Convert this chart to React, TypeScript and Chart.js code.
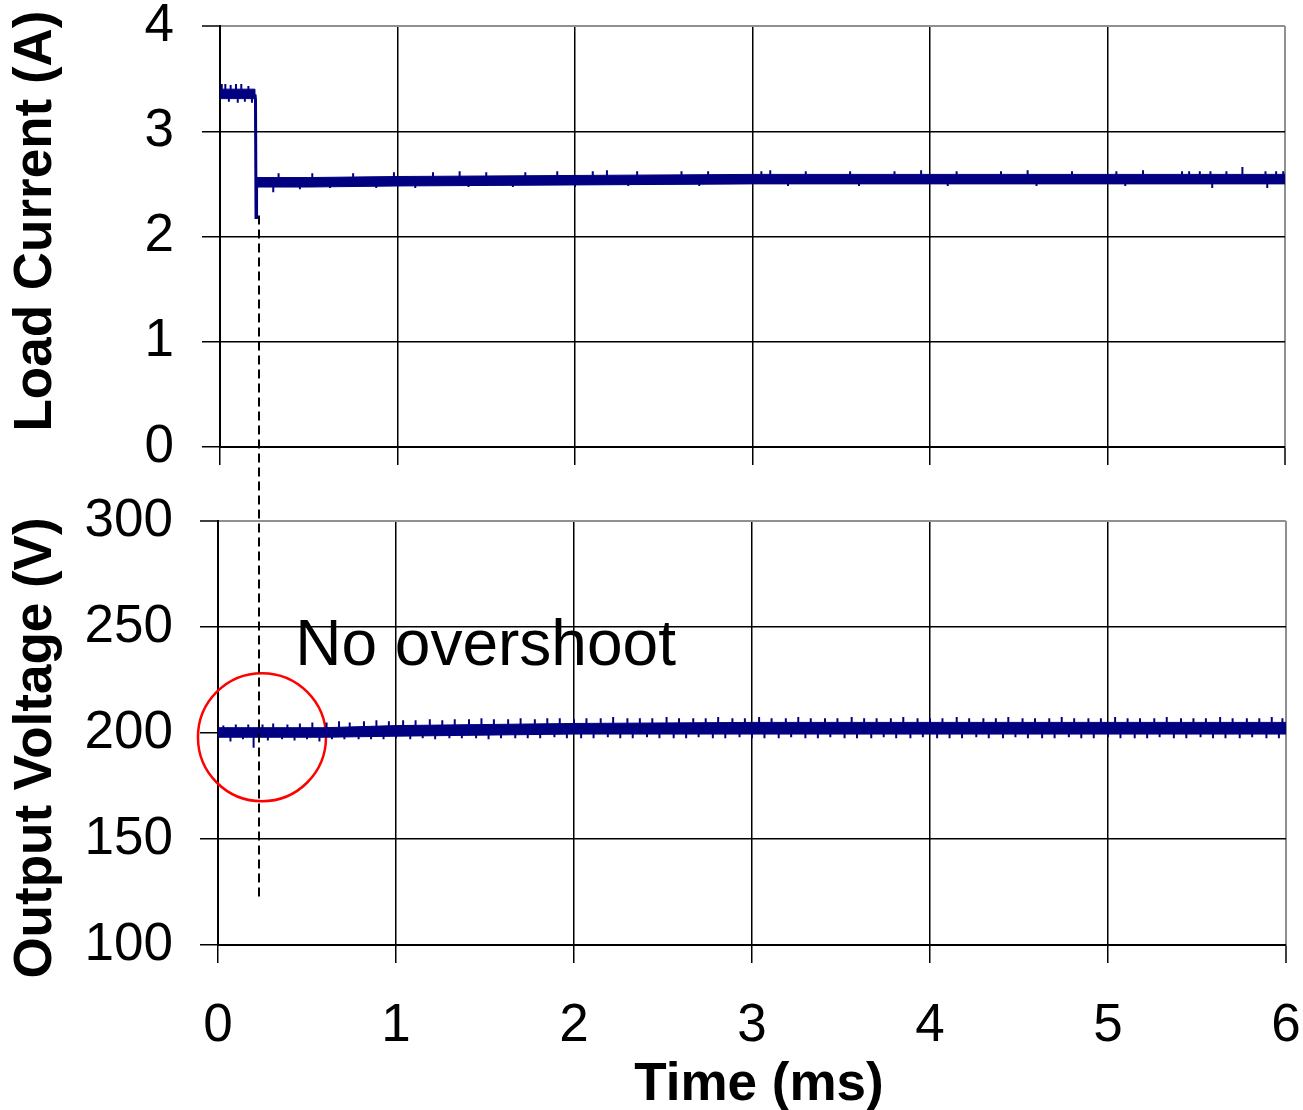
import React, { useEffect, useRef } from 'react';
import { Chart, registerables } from 'chart.js';

Chart.register(...registerables);

// ---------- data ----------
const timeTicks = [0, 1, 2, 3, 4, 5, 6];
const currentTicks = [0, 1, 2, 3, 4];
const voltageTicks = [100, 150, 200, 250, 300];

// load current band (upper / lower envelope of the ripple), A
const curEnvTime = [0, 0.197, 0.203, 0.5, 1, 2, 3, 4, 5, 6];
const curUpper = [3.4, 3.4, 2.56, 2.56, 2.57, 2.58, 2.59, 2.59, 2.59, 2.59];
const curLower = [3.31, 3.31, 2.47, 2.47, 2.48, 2.49, 2.5, 2.5, 2.5, 2.5];

// load step transient
const stepTime = [0.197, 0.2, 0.203, 0.206];
const stepCurrent = [3.35, 3.3, 2.18, 2.52];

// current ripple spikes
const curPreSpikeTime = [0.01, 0.03, 0.05, 0.06, 0.09, 0.1, 0.12, 0.14, 0.16, 0.18];
const curPreSpikeValue = [3.45, 3.45, 3.28, 3.44, 3.45, 3.27, 3.45, 3.28, 3.43, 3.27];
const curSpikeTime = [0.3, 0.33, 0.45, 0.52, 0.62, 0.75, 0.88, 0.98, 1.1, 1.2, 1.35, 1.4, 1.5, 1.65, 1.72, 1.9, 2.0, 2.1, 2.18, 2.3, 2.35, 2.6, 2.7, 2.75, 3.05, 3.1, 3.2, 3.3, 3.55, 3.6, 3.8, 3.95, 4.1, 4.15, 4.4, 4.55, 4.6, 4.8, 5.05, 5.1, 5.2, 5.42, 5.46, 5.52, 5.58, 5.59, 5.67, 5.76, 5.89, 5.9, 5.95, 5.99];
const curSpikeValue = [2.42, 2.6, 2.45, 2.6, 2.46, 2.6, 2.46, 2.61, 2.46, 2.61, 2.62, 2.47, 2.61, 2.47, 2.61, 2.62, 2.47, 2.62, 2.63, 2.48, 2.62, 2.62, 2.48, 2.62, 2.62, 2.63, 2.48, 2.62, 2.62, 2.48, 2.62, 2.63, 2.48, 2.62, 2.62, 2.63, 2.48, 2.62, 2.62, 2.48, 2.63, 2.62, 2.62, 2.62, 2.62, 2.46, 2.62, 2.66, 2.62, 2.46, 2.62, 2.62];

// output voltage band, V
const voltEnvTime = [0, 0.6, 1, 2, 3, 4, 5, 6];
const voltUpper = [202.5, 202.5, 203.5, 204.5, 205, 205, 205, 205];
const voltLower = [198, 198, 198.5, 199.5, 199.5, 199.5, 199.5, 199.5];

// voltage ripple teeth
const voltUpTime = [0.03, 0.1, 0.17, 0.25, 0.31, 0.39, 0.46, 0.53, 0.61, 0.68, 0.74, 0.82, 0.89, 0.96, 1.04, 1.11, 1.19, 1.26, 1.33, 1.41, 1.48, 1.55, 1.63, 1.7, 1.78, 1.85, 1.92, 2.0, 2.07, 2.15, 2.22, 2.3, 2.37, 2.44, 2.52, 2.59, 2.67, 2.74, 2.81, 2.89, 2.96, 3.04, 3.11, 3.19, 3.26, 3.33, 3.41, 3.48, 3.56, 3.63, 3.7, 3.78, 3.85, 3.93, 4.0, 4.07, 4.15, 4.22, 4.3, 4.37, 4.44, 4.52, 4.59, 4.67, 4.74, 4.81, 4.89, 4.96, 5.04, 5.11, 5.18, 5.26, 5.33, 5.41, 5.48, 5.55, 5.63, 5.7, 5.78, 5.85, 5.92, 5.98];
const voltUpValue = [203.5, 204, 204, 204, 204.5, 204, 204.5, 205, 205, 205.5, 205, 205.5, 206, 205.5, 206, 206, 206.5, 206, 206.5, 206.5, 207, 206.5, 206.5, 207, 206.5, 207, 207, 206.5, 207, 207, 207.5, 207, 207, 207, 207.5, 207, 207, 207, 207.5, 207, 207, 207.5, 207, 207, 207.5, 207, 207, 207, 207.5, 207, 207, 207, 207.5, 207, 207, 207, 207.5, 207, 207, 207, 207.5, 207, 207, 207, 207.5, 207, 207, 207, 207.5, 207, 207, 207, 207.5, 207, 207, 207, 207.5, 207, 207, 207, 207.5, 207];
const voltDownTime = [0.07, 0.14, 0.2, 0.28, 0.36, 0.43, 0.5, 0.57, 0.64, 0.71, 0.79, 0.86, 0.93, 1.0, 1.08, 1.15, 1.22, 1.3, 1.37, 1.45, 1.52, 1.59, 1.67, 1.74, 1.81, 1.89, 1.96, 2.04, 2.11, 2.19, 2.26, 2.33, 2.41, 2.48, 2.56, 2.63, 2.7, 2.78, 2.85, 2.93, 3.0, 3.07, 3.15, 3.22, 3.3, 3.37, 3.44, 3.52, 3.59, 3.67, 3.74, 3.81, 3.89, 3.96, 4.04, 4.11, 4.18, 4.26, 4.33, 4.41, 4.48, 4.55, 4.63, 4.7, 4.78, 4.85, 4.92, 5.0, 5.07, 5.15, 5.22, 5.29, 5.37, 5.44, 5.52, 5.59, 5.66, 5.74, 5.81, 5.89, 5.96];
const voltDownValue = [196, 197, 193, 196.5, 197, 196.5, 197, 196, 197, 197, 197, 197, 197, 197.5, 197, 197.5, 197, 197.5, 197.5, 197.5, 197, 197.5, 197.5, 197.5, 197.5, 198, 197.5, 197.5, 197.5, 198, 197.5, 197.5, 198, 197.5, 197.5, 197.5, 198, 197.5, 197.5, 198, 197.5, 197.5, 197.5, 198, 197.5, 197.5, 198, 197.5, 197.5, 197.5, 198, 197.5, 197.5, 198, 197.5, 197.5, 197.5, 198, 197.5, 197.5, 198, 197.5, 197.5, 197.5, 198, 197.5, 197.5, 198, 197.5, 197.5, 197.5, 198, 197.5, 197.5, 198, 197.5, 197.5, 197.5, 198, 197.5, 197.5];

// annotations
const markerTime = 0.218;
const markerFromCurrent = 2.2;
const markerToVoltage = 121;
const circleTime = 0.247;
const circleVoltage = 198;
const noteText = 'No overshoot';
const noteTime = 0.434;
const noteVoltage = 232.3;

// ---------- styling ----------
const W = 1303;
const H = 1110;
const NAVY = '#000080';
const DARK = '#000000';
const GRAY = '#909090';
const FONT = "'Liberation Sans', Arial, Helvetica, sans-serif";

const pts = (xs: number[], ys: number[]) => xs.map((x, i) => ({ x, y: ys[i] }));
const spikes = (xs: number[], ys: number[], base: number) => {
  const out: { x: number; y: number | null }[] = [];
  xs.forEach((x, i) => {
    out.push({ x, y: base });
    out.push({ x, y: ys[i] });
    out.push({ x, y: null });
  });
  return out;
};

const gridFor = (last: number) => ({
  color: (c: any) => (c.tick && c.tick.value === last ? GRAY : DARK),
  lineWidth: (c: any) => (c.tick && c.tick.value === last ? 2 : 1.5),
  tickColor: DARK,
  tickWidth: 1.5,
  tickLength: 18,
  drawTicks: true,
});

const tickFont = { family: FONT, size: 53, lineHeight: 1 };

export default function App() {
  const topRef = useRef<HTMLCanvasElement>(null);
  const botRef = useRef<HTMLCanvasElement>(null);

  useEffect(() => {
    if (!topRef.current || !botRef.current) return;

    const topChart = new Chart(topRef.current, {
      type: 'line',
      data: {
        datasets: [
          { data: pts(curEnvTime, curUpper), borderColor: NAVY, backgroundColor: NAVY, borderWidth: 1, fill: '+1', pointRadius: 0, tension: 0 },
          { data: pts(curEnvTime, curLower), borderColor: NAVY, borderWidth: 1, fill: false, pointRadius: 0, tension: 0 },
          { data: pts(stepTime, stepCurrent), borderColor: NAVY, borderWidth: 3, fill: false, pointRadius: 0, tension: 0 },
          { data: spikes(curPreSpikeTime, curPreSpikeValue, 3.35), borderColor: NAVY, borderWidth: 2, fill: false, pointRadius: 0, spanGaps: false },
          { data: spikes(curSpikeTime, curSpikeValue, 2.53), borderColor: NAVY, borderWidth: 2, fill: false, pointRadius: 0, spanGaps: false },
        ],
      } as any,
      options: {
        responsive: false,
        maintainAspectRatio: false,
        animation: false,
        events: [],
        layout: { autoPadding: false, padding: { left: 0, top: 26, right: 18, bottom: H - 447 - 18 } },
        plugins: { legend: { display: false }, tooltip: { enabled: false } },
        scales: {
          x: {
            type: 'linear',
            min: 0,
            max: 6,
            afterBuildTicks: (s: any) => { s.ticks = timeTicks.map((v) => ({ value: v })); },
            ticks: { display: false },
            grid: gridFor(6),
            border: { color: DARK, width: 2 },
            afterFit: (s: any) => { s.height = 18; s.paddingLeft = 0; s.paddingRight = 0; },
          },
          y: {
            type: 'linear',
            min: 0,
            max: 4,
            afterBuildTicks: (s: any) => { s.ticks = currentTicks.map((v) => ({ value: v })); },
            ticks: { font: tickFont, color: '#000', padding: 28, callback: (v: any) => String(v) },
            grid: gridFor(4),
            border: { color: DARK, width: 2 },
            afterFit: (s: any) => { s.width = 220; s.paddingTop = 0; s.paddingBottom = 0; },
          },
        },
      } as any,
    });

    const annot = {
      id: 'annot',
      afterDatasetsDraw(chart: any) {
        const ctx = chart.ctx as CanvasRenderingContext2D;
        const xs = chart.scales.x;
        const ys = chart.scales.y;
        // dashed marker spanning both panels
        const x = topChart.scales.x.getPixelForValue(markerTime);
        const y1 = topChart.scales.y.getPixelForValue(markerFromCurrent);
        const y2 = ys.getPixelForValue(markerToVoltage);
        ctx.save();
        ctx.strokeStyle = '#000';
        ctx.lineWidth = 2;
        ctx.setLineDash([9, 5]);
        ctx.beginPath();
        ctx.moveTo(Math.round(x), y1);
        ctx.lineTo(Math.round(x), y2);
        ctx.stroke();
        ctx.restore();
        // note text
        ctx.save();
        ctx.fillStyle = '#000';
        ctx.font = `64px ${FONT}`;
        ctx.textAlign = 'left';
        ctx.textBaseline = 'alphabetic';
        ctx.fillText(noteText, xs.getPixelForValue(noteTime), ys.getPixelForValue(noteVoltage));
        ctx.restore();
      },
      afterDraw(chart: any) {
        const ctx = chart.ctx as CanvasRenderingContext2D;
        ctx.save();
        ctx.fillStyle = '#000';
        ctx.font = `bold 53px ${FONT}`;
        ctx.textAlign = 'center';
        ctx.textBaseline = 'alphabetic';
        ctx.fillText('Time (ms)', 759, 1100);
        ctx.translate(51, 221);
        ctx.rotate(-Math.PI / 2);
        ctx.fillText('Load Current (A)', 0, 0);
        ctx.restore();
        ctx.save();
        ctx.fillStyle = '#000';
        ctx.font = `bold 53px ${FONT}`;
        ctx.textAlign = 'center';
        ctx.textBaseline = 'alphabetic';
        ctx.translate(51, 748);
        ctx.rotate(-Math.PI / 2);
        ctx.fillText('Output Voltage (V)', 0, 0);
        ctx.restore();
      },
    };

    const botChart = new Chart(botRef.current, {
      type: 'line',
      data: {
        datasets: [
          { data: pts(voltEnvTime, voltUpper), borderColor: NAVY, backgroundColor: NAVY, borderWidth: 1, fill: '+1', pointRadius: 0, tension: 0 },
          { data: pts(voltEnvTime, voltLower), borderColor: NAVY, borderWidth: 1, fill: false, pointRadius: 0, tension: 0 },
          { data: spikes(voltUpTime, voltUpValue, 202), borderColor: NAVY, borderWidth: 2, fill: false, pointRadius: 0, spanGaps: false },
          { data: spikes(voltDownTime, voltDownValue, 202), borderColor: NAVY, borderWidth: 2, fill: false, pointRadius: 0, spanGaps: false },
          {
            data: [{ x: circleTime, y: circleVoltage }],
            showLine: false,
            pointRadius: 64,
            pointStyle: 'circle',
            pointBorderColor: '#ff0000',
            pointBackgroundColor: 'rgba(0,0,0,0)',
            pointBorderWidth: 2.5,
            clip: false,
          },
        ],
      } as any,
      options: {
        responsive: false,
        maintainAspectRatio: false,
        animation: false,
        events: [],
        layout: { autoPadding: false, padding: { left: 0, top: 521, right: W - 1286, bottom: 0 } },
        plugins: { legend: { display: false }, tooltip: { enabled: false } },
        scales: {
          x: {
            type: 'linear',
            min: 0,
            max: 6,
            afterBuildTicks: (s: any) => { s.ticks = timeTicks.map((v) => ({ value: v })); },
            ticks: { font: tickFont, color: '#000', padding: 37, maxRotation: 0, autoSkip: false, callback: (v: any) => String(v) },
            grid: gridFor(6),
            border: { color: DARK, width: 2 },
            afterFit: (s: any) => { s.height = H - 945; s.paddingLeft = 0; s.paddingRight = 0; },
          },
          y: {
            type: 'linear',
            min: 100,
            max: 300,
            afterBuildTicks: (s: any) => { s.ticks = voltageTicks.map((v) => ({ value: v })); },
            ticks: { font: tickFont, color: '#000', padding: 27, callback: (v: any) => String(v) },
            grid: gridFor(300),
            border: { color: DARK, width: 2 },
            afterFit: (s: any) => { s.width = 218; s.paddingTop = 0; s.paddingBottom = 0; },
          },
        },
      } as any,
      plugins: [annot],
    });

    return () => {
      botChart.destroy();
      topChart.destroy();
    };
  }, []);

  return (
    <div style={{ position: 'absolute', left: 0, top: 0, width: W, height: H, background: '#fff' }}>
      <canvas ref={topRef} width={W} height={H} style={{ position: 'absolute', left: 0, top: 0 }} />
      <canvas ref={botRef} width={W} height={H} style={{ position: 'absolute', left: 0, top: 0 }} />
    </div>
  );
}
